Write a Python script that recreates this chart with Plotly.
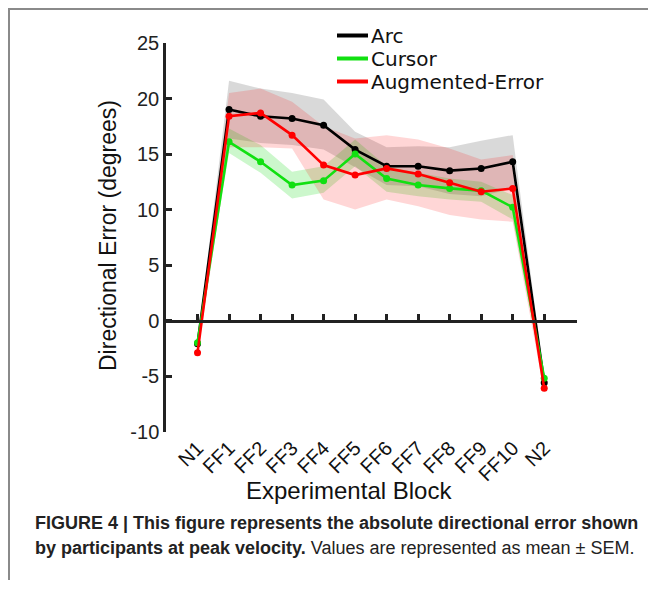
import plotly.graph_objects as go

# figure is placed by the page at (8, 8); sized so the page needs no scrolling
W, H = 640, 572
OFF = 8

blocks = ["N1", "FF1", "FF2", "FF3", "FF4", "FF5", "FF6", "FF7", "FF8", "FF9", "FF10", "N2"]
y_tick_vals = [-10, -5, 0, 5, 10, 15, 20, 25]
y_tick_text = ["-10", "-5", "0", "5", "10", "15", "20", "25"]

arc_mean = [-2.1, 19.0, 18.4, 18.2, 17.6, 15.4, 13.9, 13.9, 13.5, 13.7, 14.3, -5.6]
arc_upper = [-1.8, 21.6, 20.9, 20.5, 19.9, 17.0, 15.6, 15.7, 15.6, 16.2, 16.7, -5.2]
arc_lower = [-2.4, 16.4, 16.0, 15.8, 15.4, 13.8, 12.2, 12.1, 11.4, 11.2, 11.9, -6.0]

cursor_mean = [-2.0, 16.1, 14.3, 12.2, 12.6, 15.0, 12.8, 12.2, 11.9, 11.7, 10.2, -5.2]
cursor_upper = [-1.7, 17.3, 15.8, 13.4, 13.9, 16.3, 13.9, 13.3, 12.8, 12.5, 11.3, -4.9]
cursor_lower = [-2.3, 15.1, 13.3, 11.0, 11.5, 13.9, 11.6, 11.2, 10.9, 10.7, 9.1, -5.5]

aug_mean = [-2.9, 18.4, 18.7, 16.7, 14.0, 13.1, 13.7, 13.2, 12.4, 11.6, 11.9, -6.1]
aug_upper = [-2.6, 20.5, 20.9, 19.7, 17.5, 16.4, 16.7, 16.3, 15.5, 14.5, 14.9, -5.7]
aug_lower = [-3.2, 15.6, 15.6, 15.5, 10.9, 10.0, 10.9, 10.3, 9.5, 9.1, 8.9, -6.5]

series = [
    ("Arc", arc_mean, arc_upper, arc_lower, "#000000", "rgba(128,128,128,0.30)"),
    ("Cursor", cursor_mean, cursor_upper, cursor_lower, "#11e011", "rgba(0,215,0,0.20)"),
    ("Augmented-Error", aug_mean, aug_upper, aug_lower, "#ff0000", "rgba(255,0,0,0.16)"),
]

idx = list(range(len(blocks)))


# window-pixel -> paper-fraction helpers (layout placement only)
def px(x):
    return (x - OFF) / W


def py(y):
    return 1 - (y - OFF) / H


x_dom = [px(166), px(577)]
y_dom = [py(431.5), py(43)]
x_range = [-1.0, 12.04]
y_range = [-10, 25]
zero_pos = y_dom[0] + (0 - y_range[0]) / (y_range[1] - y_range[0]) * (y_dom[1] - y_dom[0])

fig = go.Figure()

# SEM bands on the base x axis (tick labels at the bottom)
for name, m, u, l, col, fcol in series:
    fig.add_trace(go.Scatter(
        x=idx + idx[::-1], y=u + l[::-1], fill="toself", fillcolor=fcol,
        line=dict(width=0), mode="lines", hoverinfo="skip", showlegend=False,
        xaxis="x", yaxis="y"))

# mean lines on the overlaid x2 axis (the axis drawn through y = 0)
for name, m, u, l, col, fcol in series:
    fig.add_trace(go.Scatter(
        x=idx, y=m, mode="lines+markers", name=name,
        line=dict(color=col, width=2.6), marker=dict(color=col, size=7),
        showlegend=False, xaxis="x2", yaxis="y"))

font_ax = "Liberation Sans, Arial, sans-serif"
axis_col = "#222222"

fig.update_layout(
    width=W, height=H,
    margin=dict(l=0, r=0, t=0, b=0, autoexpand=False),
    paper_bgcolor="white", plot_bgcolor="rgba(0,0,0,0)",
    showlegend=False,
    xaxis=dict(domain=x_dom, range=x_range, tickvals=idx, ticktext=blocks,
               tickangle=-45, showline=False, ticks="", showgrid=False,
               zeroline=False, tickfont=dict(family=font_ax, size=20, color="#111"),
               anchor="y", automargin=False),
    xaxis2=dict(overlaying="x", anchor="free", position=zero_pos, domain=x_dom,
                range=x_range, tickvals=idx, showticklabels=False, ticks="inside",
                ticklen=6, tickwidth=2.5, tickcolor=axis_col, showline=True,
                linewidth=2.5, linecolor=axis_col, showgrid=False, zeroline=False,
                side="bottom"),
    yaxis=dict(domain=y_dom, range=y_range, tickvals=y_tick_vals, ticktext=y_tick_text,
               ticks="inside", ticklen=6, tickwidth=2.5, tickcolor=axis_col,
               showline=True, linewidth=2.5, linecolor=axis_col, showgrid=False,
               zeroline=False, tickfont=dict(family=font_ax, size=20, color="#222"),
               anchor="x", automargin=False),
)

# frame lines of the figure panel
fig.add_shape(type="line", xref="paper", yref="paper", x0=px(8), x1=1, y0=py(9), y1=py(9),
              line=dict(color="#8a8a8a", width=2))
fig.add_shape(type="line", xref="paper", yref="paper", x0=px(9), x1=px(9), y0=py(8), y1=0,
              line=dict(color="#8a8a8a", width=2))

# axis titles
fig.add_annotation(text="Directional Error (degrees)", xref="paper", yref="paper",
                   x=px(108), y=py(236), textangle=-90, showarrow=False,
                   xanchor="center", yanchor="middle",
                   font=dict(family=font_ax, size=23, color="#111"))
fig.add_annotation(text="Experimental Block", xref="paper", yref="paper",
                   x=px(349), y=py(490), showarrow=False, xanchor="center", yanchor="middle",
                   font=dict(family=font_ax, size=24, color="#111"))

# legend (drawn by hand to match the tight MATLAB spacing)
leg_y = [35.5, 58.5, 81.5]
for (name, m, u, l, col, fcol), ly in zip(series, leg_y):
    fig.add_shape(type="line", xref="paper", yref="paper", x0=px(337), x1=px(368),
                  y0=py(ly), y1=py(ly), line=dict(color=col, width=4))
    fig.add_annotation(text=name, xref="paper", yref="paper", x=px(370), y=py(ly + 1),
                       showarrow=False, xanchor="left", yanchor="middle", borderpad=0,
                       font=dict(family="DejaVu Sans, sans-serif", size=20, color="#111"))

# caption
cap_font = "Liberation Sans Narrow, Arial Narrow, Liberation Sans, Arial, sans-serif"
fig.add_annotation(text="<b>FIGURE 4 | This figure represents the absolute directional error shown</b>",
                   xref="paper", yref="paper", x=px(33), y=py(523), showarrow=False,
                   xanchor="left", yanchor="middle", font=dict(family=cap_font, size=18, color="#222"))
fig.add_annotation(text="<b>by participants at peak velocity.</b> Values are represented as mean ± SEM.",
                   xref="paper", yref="paper", x=px(33), y=py(548), showarrow=False,
                   xanchor="left", yanchor="middle", font=dict(family=cap_font, size=18, color="#222"))

fig.write_html("out.html")
